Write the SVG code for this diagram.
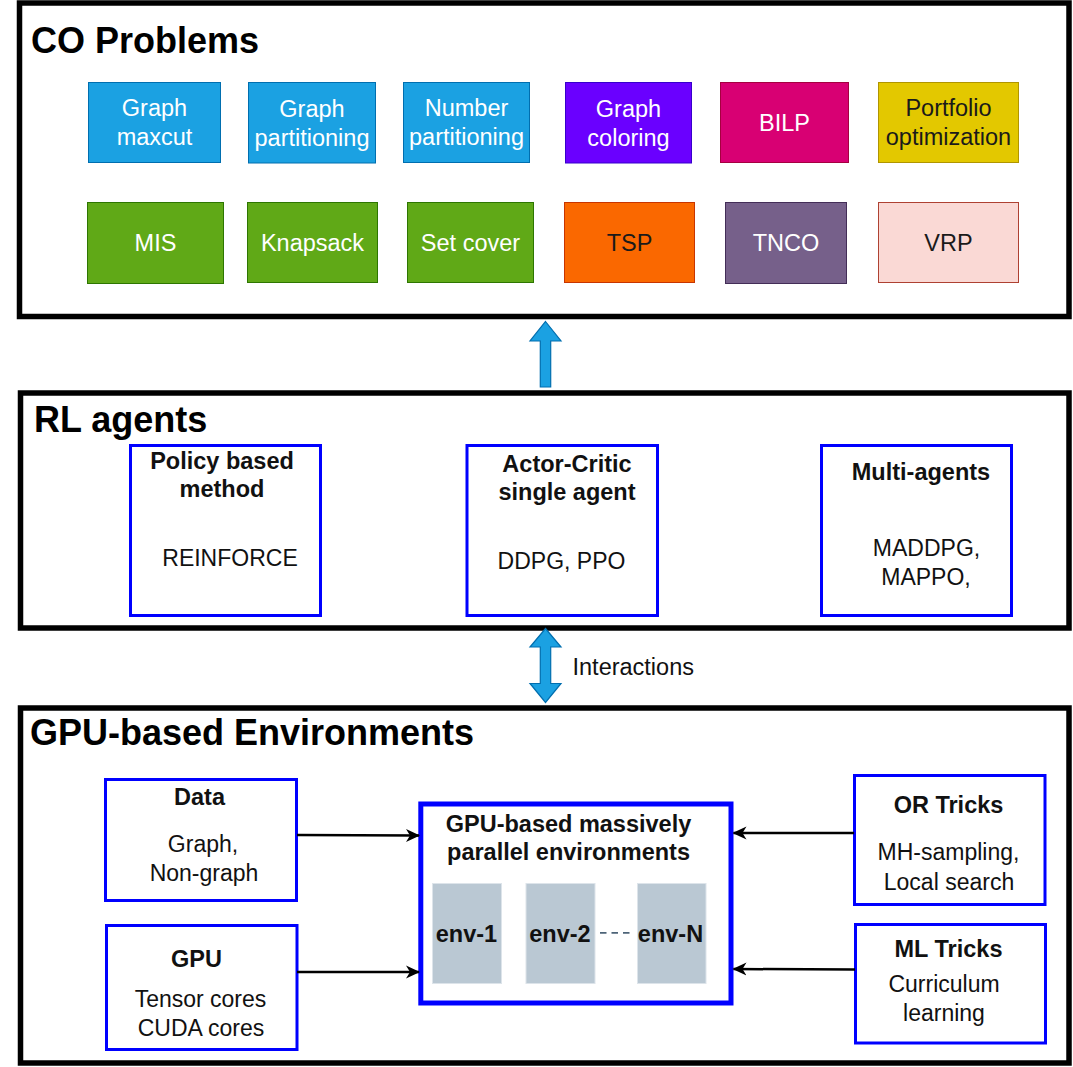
<svg xmlns="http://www.w3.org/2000/svg" width="1073" height="1067" viewBox="0 0 1073 1067">
<defs>
<style>
text{font-family:"Liberation Sans",Arial,Helvetica,sans-serif;}
.panel{fill:#fff;stroke:#000;stroke-width:5.5;}
.title{font-size:36px;font-weight:bold;fill:#000;}
.co{font-size:23.5px;text-anchor:middle;}
.w{fill:#fff;}
.k{fill:#1a1a1a;}
.bb{fill:#fff;stroke:#0000ff;stroke-width:3;}
.bbt{fill:#fff;stroke:#0000ff;stroke-width:5;}
.t{font-size:23px;text-anchor:middle;fill:#111;}
.b{font-weight:bold;font-size:23.5px;}
.env{fill:#bac8d3;stroke:#dde4ea;stroke-width:1;}
.blk{fill:#1ba1e2;stroke:#006eaf;stroke-width:1.2;}
.conn{stroke:#000;stroke-width:2.5;fill:none;marker-end:url(#ah);}
</style>
<marker id="ah" viewBox="0 0 14 14" refX="13" refY="7" markerWidth="14" markerHeight="14" markerUnits="userSpaceOnUse" orient="auto">
<path d="M0,0.5 L14,7 L0,13.5 L4,7 Z" fill="#000"/>
</marker>
</defs>

<g id="co-panel">
<rect class="panel" x="19.5" y="3" width="1049.5" height="313.5"/>
<text class="title" x="31" y="53">CO Problems</text>
</g>
<g id="graph-maxcut"><rect x="88.5" y="82.5" width="132" height="80" fill="#1ba1e2" stroke="#006eaf"/><text class="co w" x="154.5"><tspan x="154.5" y="116">Graph</tspan><tspan x="154.5" y="145">maxcut</tspan></text></g>
<g id="graph-partitioning"><rect x="248.5" y="82.5" width="127" height="80.5" fill="#1ba1e2" stroke="#006eaf"/><text class="co w"><tspan x="312" y="116.5">Graph</tspan><tspan x="312" y="145.5">partitioning</tspan></text></g>
<g id="number-partitioning"><rect x="403.5" y="82.5" width="126" height="80" fill="#1ba1e2" stroke="#006eaf"/><text class="co w"><tspan x="466.5" y="116">Number</tspan><tspan x="466.5" y="145">partitioning</tspan></text></g>
<g id="graph-coloring"><rect x="565.5" y="82.5" width="126" height="80.5" fill="#6a00ff" stroke="#3700cc"/><text class="co w"><tspan x="628.5" y="116.5">Graph</tspan><tspan x="628.5" y="145.5">coloring</tspan></text></g>
<g id="bilp"><rect x="720.5" y="82.5" width="128" height="80" fill="#d80073" stroke="#a50040"/><text class="co w" x="784.5" y="130.5">BILP</text></g>
<g id="portfolio"><rect x="878.5" y="82.5" width="140" height="80" fill="#e3c800" stroke="#b09500"/><text class="co k"><tspan x="948.5" y="116">Portfolio</tspan><tspan x="948.5" y="145">optimization</tspan></text></g>

<g id="mis"><rect x="87.5" y="202.5" width="136" height="81" fill="#60a917" stroke="#2d7600"/><text class="co w" x="155.5" y="251">MIS</text></g>
<g id="knapsack"><rect x="247.5" y="202.5" width="130" height="80" fill="#60a917" stroke="#2d7600"/><text class="co w" x="312.5" y="250.5">Knapsack</text></g>
<g id="set-cover"><rect x="407.5" y="202.5" width="126" height="80" fill="#60a917" stroke="#2d7600"/><text class="co w" x="470.5" y="250.5">Set cover</text></g>
<g id="tsp"><rect x="564.5" y="202.5" width="130" height="80" fill="#fa6800" stroke="#c73500"/><text class="co k" x="629.5" y="250.5">TSP</text></g>
<g id="tnco"><rect x="725.5" y="202.5" width="121" height="81" fill="#76608a" stroke="#432d57"/><text class="co w" x="786" y="251">TNCO</text></g>
<g id="vrp"><rect x="878.5" y="202.5" width="140" height="80" fill="#fad9d5" stroke="#ae4132"/><text class="co k" x="948.5" y="250.5">VRP</text></g>

<g id="rl-panel">
<rect class="panel" x="20.5" y="393" width="1048.5" height="235"/>
<text class="title" x="34" y="432">RL agents</text>
</g>
<g id="policy-based"><rect class="bb" x="130.5" y="445.5" width="190" height="170"/><text class="t"><tspan class="b" x="222" y="468.5">Policy based</tspan><tspan class="b" x="222" y="497">method</tspan><tspan x="230" y="566">REINFORCE</tspan></text></g>
<g id="actor-critic"><rect class="bb" x="467" y="445.5" width="190.5" height="170"/><text class="t"><tspan class="b" x="567" y="471.5">Actor-Critic</tspan><tspan class="b" x="567" y="499.5">single agent</tspan><tspan x="561.5" y="568.5">DDPG, PPO</tspan></text></g>
<g id="multi-agents"><rect class="bb" x="821.5" y="445.5" width="190" height="170"/><text class="t"><tspan class="b" x="921" y="479.5">Multi-agents</tspan><tspan x="926.5" y="555.5">MADDPG,</tspan><tspan x="926" y="585">MAPPO,</tspan></text></g>

<g id="gpu-panel">
<rect class="panel" x="20.5" y="708" width="1048.5" height="355"/>
<text class="title" x="30" y="745">GPU-based Environments</text>
</g>
<g id="data"><rect class="bb" x="105.5" y="779.5" width="191" height="121"/><text class="t"><tspan class="b" x="199.5" y="805">Data</tspan><tspan x="203" y="852">Graph,</tspan><tspan x="204" y="880.5">Non-graph</tspan></text></g>
<g id="gpu"><rect class="bb" x="106.5" y="925.5" width="190.5" height="124"/><text class="t"><tspan class="b" x="196.5" y="967">GPU</tspan><tspan x="200.5" y="1007">Tensor cores</tspan><tspan x="201" y="1036">CUDA cores</tspan></text></g>
<g id="or-tricks"><rect class="bb" x="854.5" y="775.5" width="190.5" height="129"/><text class="t"><tspan class="b" x="948.5" y="812.5">OR Tricks</tspan><tspan x="948.5" y="860">MH-sampling,</tspan><tspan x="949" y="889.5">Local search</tspan></text></g>
<g id="ml-tricks"><rect class="bb" x="855.5" y="924.5" width="190" height="118.5"/><text class="t"><tspan class="b" x="948.5" y="957">ML Tricks</tspan><tspan x="944" y="992">Curriculum</tspan><tspan x="944" y="1020.5">learning</tspan></text></g>

<g id="parallel-envs">
<rect class="bbt" x="420.8" y="804" width="310.2" height="199"/>
<text class="t b"><tspan x="568.5" y="831.5">GPU-based massively</tspan><tspan x="568.5" y="860">parallel environments</tspan></text>
</g>
<g id="env-1"><rect class="env" x="432.5" y="883.5" width="69" height="100"/><text class="t b" x="466.5" y="941.5">env-1</text></g>
<g id="env-2"><rect class="env" x="526" y="883.5" width="69" height="100"/><text class="t b" x="560" y="941.5">env-2</text></g>
<g id="env-n"><rect class="env" x="637.5" y="883.5" width="68.5" height="100"/><text class="t b" x="670.5" y="941.5">env-N</text></g>

<g id="connectors">
<path class="blk" d="M545.5,321.5 L561,341 L550.7,341 L550.7,387 L540.3,387 L540.3,341 L530,341 Z"/>
<path class="blk" d="M545.5,628.5 L561,647 L550.7,647 L550.7,683.5 L561,683.5 L545.5,702.5 L530,683.5 L540.3,683.5 L540.3,647 L530,647 Z"/>
<text class="t" style="text-anchor:start;font-size:23.5px" x="572.5" y="675">Interactions</text>
<line x1="600" y1="932.8" x2="631" y2="932.8" stroke="#4d6478" stroke-width="1.8" stroke-dasharray="6.5,5"/>
<line class="conn" x1="297" y1="835" x2="419" y2="835.5"/>
<line class="conn" x1="297" y1="972" x2="419" y2="972"/>
<line class="conn" x1="854" y1="833" x2="733.5" y2="833"/>
<line class="conn" x1="855" y1="969.5" x2="733.5" y2="969"/>
</g>
</svg>
